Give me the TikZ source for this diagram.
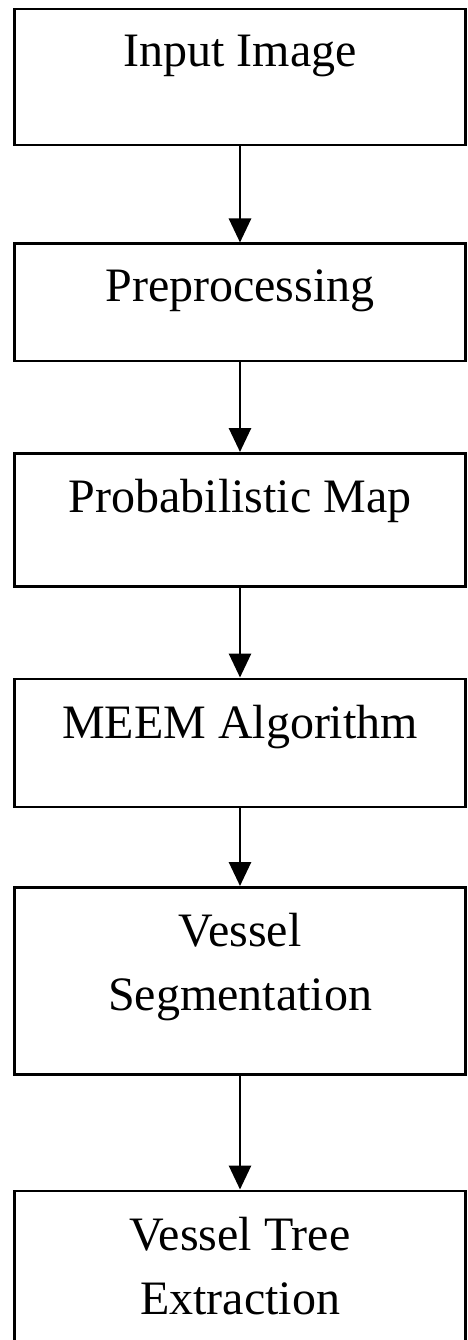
\documentclass[tikz,border=0pt]{standalone}
\usepackage{fontspec}
\setmainfont{Liberation Serif}
\usetikzlibrary{arrows.meta,positioning}

\begin{document}
\begin{tikzpicture}[x=1pt,y=1pt,>={Triangle[length=24pt,width=22pt]},
 stagebox/.style={draw,line width=2.5pt,minimum width=451pt,inner sep=0pt},
 stagetext/.style={inner sep=0pt,align=center,font=\fontsize{48pt}{64pt}\selectfont},
 flow/.style={->,line width=2.8pt}]
\useasboundingbox (0,0) rectangle (467,-1340);
\node[stagebox,minimum height=136pt,anchor=north] (input) at (240,-8) {};
\node[stagebox,minimum height=117pt,below=96pt of input] (prep) {};
\node[stagebox,minimum height=133pt,below=90pt of prep] (probmap) {};
\node[stagebox,minimum height=128pt,below=90pt of probmap] (meem) {};
\node[stagebox,minimum height=187pt,below=78pt of meem] (vseg) {};
\node[stagebox,minimum height=160pt,below=114pt of vseg] (vtree) {};
\node[stagetext,below=27pt of input.north] (inputtxt) {Input Image};
\node[stagetext,below=27pt of prep.north] (preptxt) {Preprocessing};
\node[stagetext,below=27pt of probmap.north] (probmaptxt) {Probabilistic Map};
\node[stagetext,below=27pt of meem.north] (meemtxt) {MEEM Algorithm};
\node[stagetext,below=27pt of vseg.north] (vsegtxt) {Vessel\\Segmentation};
\node[stagetext,below=27pt of vtree.north] (vtreetxt) {Vessel Tree\\Extraction};
\draw[flow] (input) -- (prep);
\draw[flow] (prep) -- (probmap);
\draw[flow] (probmap) -- (meem);
\draw[flow] (meem) -- (vseg);
\draw[flow] (vseg) -- (vtree);
\end{tikzpicture}
\end{document}
